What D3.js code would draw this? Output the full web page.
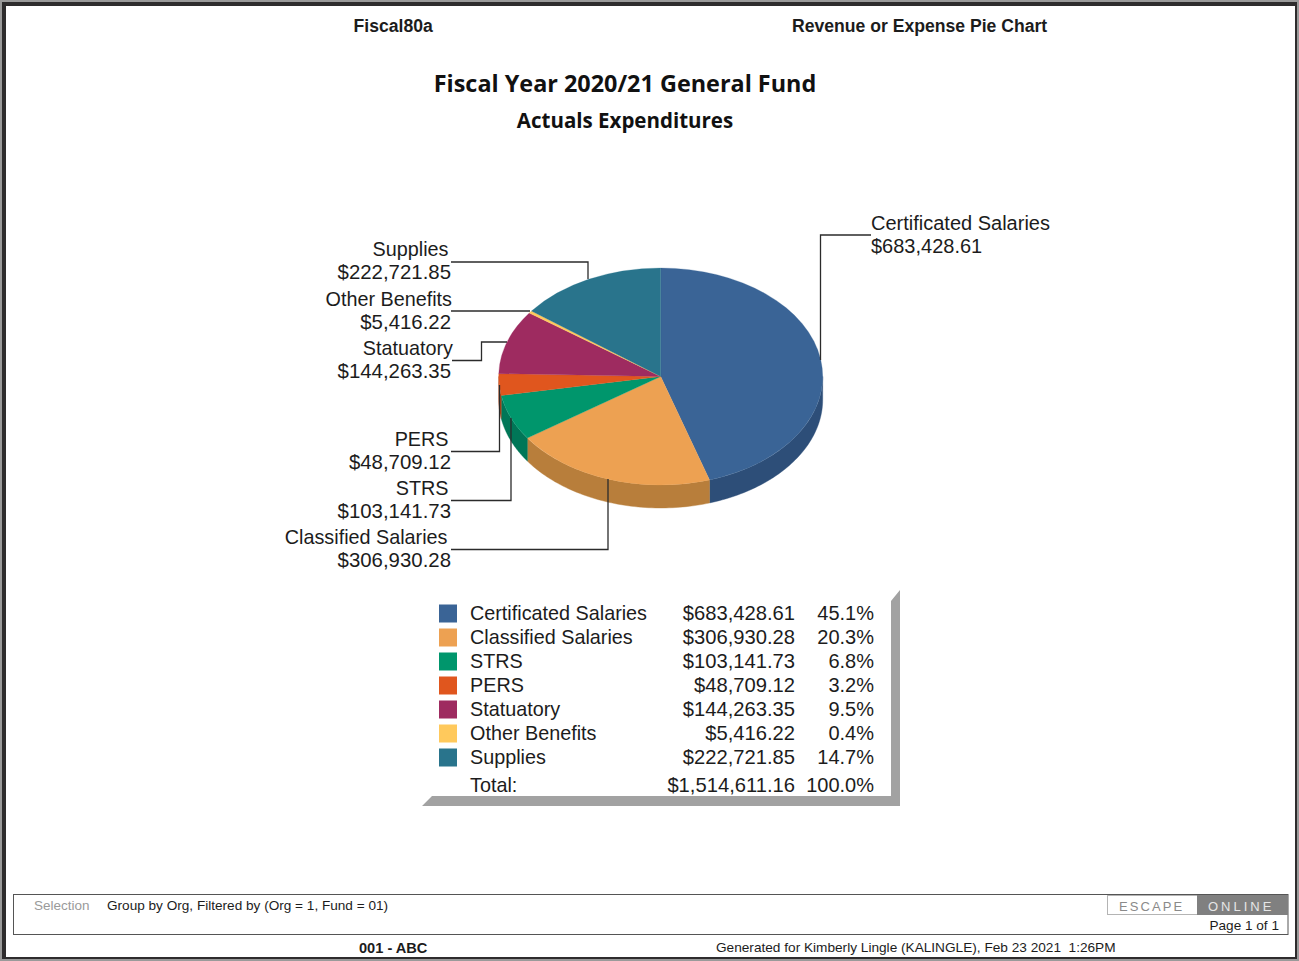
<!DOCTYPE html>
<html>
<head>
<meta charset="utf-8">
<style>
html,body{margin:0;padding:0;background:#fff}
svg{display:block}
text{font-family:"Liberation Sans",Arial,sans-serif;fill:#1c1c1c}
</style>
<script src="https://cdn.jsdelivr.net/npm/d3@7"></script>
</head>
<body>
<svg id="chart" width="1299" height="961"></svg>
<script>
// Expenditure categories and amounts
const categories = ["Certificated Salaries","Classified Salaries","STRS","PERS","Statuatory","Other Benefits","Supplies"];
const amounts = [683428.61,306930.28,103141.73,48709.12,144263.35,5416.22,222721.85];
const topColors = ["#3a6496","#eda152","#00966c","#e0561e","#9e2b60","#ffc95c","#29748c"];
const sideColors = ["#2d4e78","#b87e3b","#007657","#b04417","#7c224b","#c99e48","#205a6d"];
const total = d3.sum(amounts);

const money = d3.format("$,.2f");
const pct = d3.format(".1%");
const svg = d3.select("#chart");

// Page frame
svg.append("rect").attr("width",1299).attr("height",961).attr("fill","#9a9a9a");
svg.append("rect").attr("x",2).attr("y",2).attr("width",1295).attr("height",957).attr("fill","#2e2c2d");
svg.append("rect").attr("x",6).attr("y",6).attr("width",1289).attr("height",951).attr("fill","#fff");

// Report headers and titles
function label(parent,x,y,str,size,opts={}){
  return parent.append("text").attr("x",x).attr("y",y).text(str)
    .attr("font-size",size)
    .attr("text-anchor",opts.anchor||"start")
    .attr("font-weight",opts.weight||"normal")
    .style("fill",opts.fill||null)
    .style("font-family",opts.family||null)
    .style("letter-spacing",opts.spacing||null);
}
label(svg,353.5,32,"Fiscal80a",17.6,{weight:"bold"});
label(svg,792,32,"Revenue or Expense Pie Chart",17.6,{weight:"bold"});
label(svg,625,92,"Fiscal Year 2020/21 General Fund",23.4,{anchor:"middle",weight:"bold",family:"'Open Sans'",fill:"#111"});
label(svg,625,128,"Actuals Expenditures",20.5,{anchor:"middle",weight:"bold",family:"'Open Sans'",fill:"#111"});

// Tilted pie geometry
const cx = 660.7, cy = 376.5, rx = 162, ry = 108.5, depth = 23;
const slices = d3.pie().sort(null).value(d=>d)(amounts);
const px = a => cx + rx*Math.sin(a);
const py = a => cy - ry*Math.cos(a);
const pieG = svg.append("g");

// Rim: only the front half of the ellipse shows
const rimLine = d3.line();
slices.forEach((s,i)=>{
  const a0 = Math.max(s.startAngle,Math.PI/2), a1 = Math.min(s.endAngle,Math.PI*1.5);
  if(a1<=a0) return;
  const steps = d3.range(0,61).map(k=>a0+(a1-a0)*k/60);
  const pts = steps.map(a=>[px(a),py(a)]).concat(steps.slice().reverse().map(a=>[px(a),py(a)+depth]));
  pieG.append("path").attr("d",rimLine(pts)+"Z").attr("fill",sideColors[i]).attr("stroke",sideColors[i]).attr("stroke-width",0.4);
});

// Top face: a flat d3 arc squashed into an ellipse
const arc = d3.arc().innerRadius(0).outerRadius(rx);
pieG.append("g").attr("transform",`translate(${cx},${cy}) scale(1,${ry/rx})`)
  .selectAll("path").data(slices).join("path")
  .attr("d",arc).attr("fill",(d,i)=>topColors[i])
  .attr("stroke",(d,i)=>topColors[i]).attr("stroke-width",0.3);

// Callouts: text block position, leader route from the slice's rim midpoint
const calloutText = [
  {x:871,y:253,anchor:"start",nameX:871},
  {x:451,y:567,anchor:"end",nameX:447.5},
  {x:451,y:518,anchor:"end",nameX:448.5},
  {x:451,y:469,anchor:"end",nameX:448.5},
  {x:451,y:378,anchor:"end",nameX:453},
  {x:451,y:329,anchor:"end",nameX:452},
  {x:451,y:279,anchor:"end",nameX:448.5}
];
const leaders = [
  (p)=>[[871,235],[820.5,235],[820.5,p[1]]],
  (p)=>[[451,549.5],[p[0],549.5],p],
  (p)=>[[451,500.5],[p[0],500.5],p],
  (p)=>[[451,451.5],[p[0]+.5,451.5],[p[0]+.5,p[1]]],
  (p)=>[[452,360.5],[481.5,360.5],[481.5,p[1]],p],
  (p)=>[[451,311],[p[0],311]],
  (p)=>[[451,262],[p[0],262],p]
];
const leaderLine = d3.line();
slices.forEach((s,i)=>{
  const mid = (s.startAngle+s.endAngle)/2;
  const anchorPt = [Math.round(px(mid)),Math.round(py(mid))];
  pieG.append("path").attr("d",leaderLine(leaders[i](anchorPt)))
    .attr("fill","none").attr("stroke","#2b2b2b").attr("stroke-width",1.3);
  const t = calloutText[i];
  const left = t.anchor==="end";
  label(svg,t.nameX,t.y-23,categories[i],left?19.8:20,{anchor:t.anchor});
  label(svg,t.x,t.y,money(amounts[i]),left?20.4:20,{anchor:t.anchor});
});

// Summary table with its bevelled shadow
const shadowShape = d3.line();
svg.append("path").attr("fill","#a2a2a2").attr("d",
  shadowShape([[900,590],[900,806],[422,806],[432,796],[891,796],[891,601]])+"Z");
const rowY = d3.scalePoint().domain(d3.range(categories.length)).range([620,764]);
categories.forEach((name,i)=>{
  const y = rowY(i);
  svg.append("rect").attr("x",439).attr("y",y-15.5).attr("width",18).attr("height",18).attr("fill",topColors[i]);
  label(svg,470,y,name,19.8);
  label(svg,795,y,money(amounts[i]),20.2,{anchor:"end"});
  label(svg,874,y,pct(amounts[i]/total),20,{anchor:"end"});
});
label(svg,470,792,"Total:",19.8);
label(svg,795,792,money(total),20.2,{anchor:"end"});
label(svg,874,792,pct(1),20,{anchor:"end"});

// Footer box, logo and run details
svg.append("rect").attr("x",13.5).attr("y",894.5).attr("width",1274.5).attr("height",40)
  .attr("fill","none").attr("stroke","#555").attr("stroke-width",1);
svg.append("rect").attr("x",1107.5).attr("y",895.5).attr("width",90).attr("height",19)
  .attr("fill","#fff").attr("stroke","#b4b4b4");
svg.append("rect").attr("x",1197).attr("y",895).attr("width",91).attr("height",20).attr("fill","#808080");
label(svg,1119,910.5,"ESCAPE",13,{fill:"#8a8a8a",spacing:"2.1px"});
label(svg,1208,910.5,"ONLINE",13,{fill:"#e6e6e6",spacing:"3px"});
label(svg,1279,930,"Page 1 of 1",13.6,{anchor:"end"});
label(svg,34,910,"Selection",13.5,{fill:"#9a9a9a"});
label(svg,107,910,"Group by Org, Filtered by (Org = 1, Fund = 01)",13.6);
label(svg,359,953,"001 - ABC",14.6,{weight:"bold"});
label(svg,716,952,"Generated for Kimberly Lingle (KALINGLE), Feb 23 2021  1:26PM",13.65).style("white-space","pre");
</script>
</body>
</html>
